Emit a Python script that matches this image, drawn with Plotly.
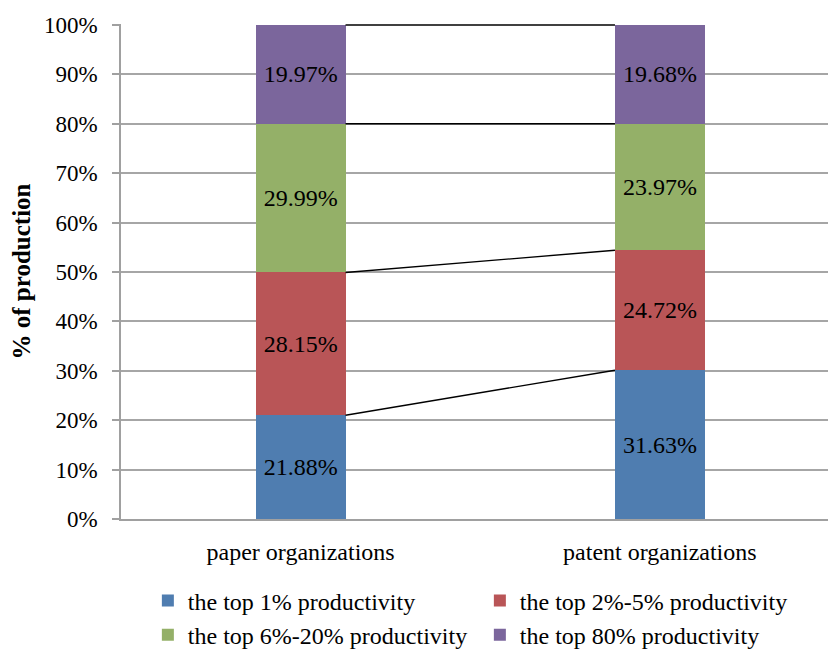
import plotly.graph_objects as go

categories = ["paper organizations", "patent organizations"]
series_names = [
    "the top 1% productivity",
    "the top 2%-5% productivity",
    "the top 6%-20% productivity",
    "the top 80% productivity",
]
# segment heights as drawn in the picture (%)
paper_heights = [21.0, 28.9, 30.1, 20.0]
patent_heights = [30.1, 24.3, 25.6, 20.0]
# data labels as printed
paper_labels = ["21.88%", "28.15%", "29.99%", "19.97%"]
patent_labels = ["31.63%", "24.72%", "23.97%", "19.68%"]
y_tick_values = [0, 10, 20, 30, 40, 50, 60, 70, 80, 90, 100]
y_tick_labels = ["0%", "10%", "20%", "30%", "40%", "50%", "60%", "70%", "80%", "90%", "100%"]
colors = ["#4F7DB0", "#B95557", "#94B068", "#7B669C"]

FONT = "Liberation Serif, Times New Roman, serif"
x_pos = [0, 1]
bar_w = 0.25

fig = go.Figure()
for i, name in enumerate(series_names):
    fig.add_trace(go.Bar(
        x=x_pos,
        y=[paper_heights[i], patent_heights[i]],
        name=name,
        width=bar_w,
        marker=dict(color=colors[i], line=dict(width=0)),
        text=[paper_labels[i], patent_labels[i]],
        textposition="inside",
        insidetextanchor="middle",
        textangle=0,
        constraintext="none",
        textfont=dict(family=FONT, size=24, color="black"),
    ))

# series lines connecting the stack boundaries
cum_p = 0
cum_q = 0
for i in range(len(series_names)):
    cum_p += paper_heights[i]
    cum_q += patent_heights[i]
    fig.add_trace(go.Scatter(
        x=[x_pos[0] + bar_w / 2, x_pos[1] - bar_w / 2],
        y=[cum_p, cum_q],
        mode="lines",
        line=dict(color="black", width=1.4),
        cliponaxis=False,
        showlegend=False,
        hoverinfo="skip",
    ))

fig.update_layout(
    barmode="stack",
    width=828,
    height=652,
    margin=dict(l=121, r=0, t=24, b=133, autoexpand=False),
    plot_bgcolor="white",
    paper_bgcolor="white",
    font=dict(family=FONT, size=23, color="black"),
    showlegend=True,
    legend=dict(
        orientation="h",
        x=0.038,
        y=-0.12,
        xanchor="left",
        yanchor="top",
        entrywidth=287,
        entrywidthmode="pixels",
        font=dict(family=FONT, size=24, color="black"),
        traceorder="normal",
        itemsizing="constant",
        tracegroupgap=0,
        bgcolor="rgba(0,0,0,0)",
    ),
)
fig.update_xaxes(
    range=[-0.5, 1.468],
    tickvals=x_pos,
    ticktext=categories,
    showgrid=False,
    showline=True,
    linecolor="#A0A0A0",
    linewidth=1.5,
    ticks="",
    ticklabelstandoff=10,
    tickfont=dict(family=FONT, size=24, color="black"),
    zeroline=False,
)
fig.update_yaxes(
    range=[0, 100.2],
    tickvals=y_tick_values,
    ticktext=y_tick_labels,
    showgrid=True,
    gridcolor="#A6A6A6",
    gridwidth=1.5,
    showline=True,
    linecolor="#A0A0A0",
    linewidth=1.5,
    ticks="outside",
    ticklen=7,
    tickcolor="#A0A0A0",
    tickwidth=1.5,
    ticklabelstandoff=10,
    tickfont=dict(family=FONT, size=23, color="black"),
    zeroline=False,
    title=dict(text="<b>% of production</b>", font=dict(family=FONT, size=25, color="black"), standoff=6),
)

fig.write_html("out.html")
